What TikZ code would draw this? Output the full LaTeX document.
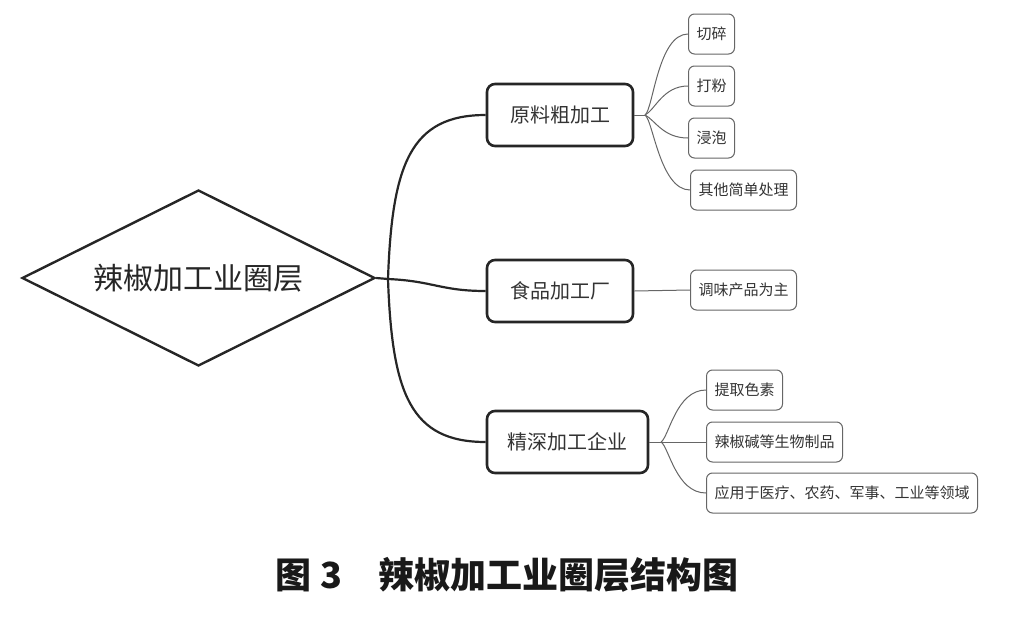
\documentclass[tikz,border=0pt]{standalone}
\usepackage{fontspec}
\newfontfamily\cjk{Noto Sans CJK SC}
\usetikzlibrary{shapes.geometric}
\begin{document}
\begin{tikzpicture}[x=1pt,y=-1pt,
  mainbox/.style={draw=black!85, line width=2.6pt, rounded corners=8pt, minimum height=62pt, inner sep=0pt, font=\cjk\fontsize{20}{24}\selectfont, text=black!80},
  leafbox/.style={draw=black!60, line width=1pt, rounded corners=6pt, minimum height=40pt, inner xsep=8pt, inner ysep=0pt, anchor=west, font=\cjk\fontsize{15}{18}\selectfont, text=black!80},
  mainline/.style={draw=black!85, line width=2.2pt},
  leafline/.style={draw=black!60, line width=1pt}]
\useasboundingbox (0,0) rectangle (1015,616);
% root
\node[diamond, draw=black!85, line width=2.4pt, minimum width=353pt, minimum height=176pt, inner sep=0pt, aspect=2, font=\cjk\fontsize{30}{36}\selectfont, text=black!85] (root) at (198.5,278) {辣椒加工业圈层};
\coordinate (br) at (388,279);
% main boxes
\node[mainbox, minimum width=146pt] (m1) at (560,115) {原料粗加工};
\node[mainbox, minimum width=146pt] (m2) at (560,291) {食品加工厂};
\node[mainbox, minimum width=161pt] (m3) at (567.5,442) {精深加工企业};
% leaves
\node[leafbox] (a1) at (688,34) {切碎};
\node[leafbox] (a2) at (688,86) {打粉};
\node[leafbox] (a3) at (688,138) {浸泡};
\node[leafbox] (a4) at (690,190) {其他简单处理};
\node[leafbox] (b1) at (690,290) {调味产品为主};
\node[leafbox] (c1) at (706,390) {提取色素};
\node[leafbox] (c2) at (706,442) {辣椒碱等生物制品};
\node[leafbox] (c3) at (706,493) {应用于医疗、农药、军事、工业等领域};
\coordinate (j1) at (645,115);
\coordinate (j3) at (661,442);
% main connectors
\draw[mainline] (root.east) -- (br);
\draw[mainline] (br) .. controls +(4,-115) and +(-75,0) .. (m1.west);
\draw[mainline] (br) .. controls +(45,2) and +(-45,0) .. (m2.west);
\draw[mainline] (br) .. controls +(4,115) and +(-75,0) .. (m3.west);
% leaf connectors
\draw[leafline] (m1.east) -- (j1);
\draw[leafline] (j1) .. controls +(8,-5) and +(-30,0) .. (a1.west);
\draw[leafline] (j1) .. controls +(10,-5) and +(-25,0) .. (a2.west);
\draw[leafline] (j1) .. controls +(10,5) and +(-25,0) .. (a3.west);
\draw[leafline] (j1) .. controls +(8,5) and +(-30,0) .. (a4.west);
\draw[leafline] (m2.east) -- (b1.west);
\draw[leafline] (m3.east) -- (j3);
\draw[leafline] (j3) .. controls +(8,-5) and +(-30,0) .. (c1.west);
\draw[leafline] (j3) -- (c2.west);
\draw[leafline] (j3) .. controls +(8,5) and +(-30,0) .. (c3.west);
% caption
\node[font=\cjk\bfseries\fontsize{36}{40}\selectfont, text=black!90] (cap) at (507,575) {图 3\hspace{1em}辣椒加工业圈层结构图};
\end{tikzpicture}
\end{document}
